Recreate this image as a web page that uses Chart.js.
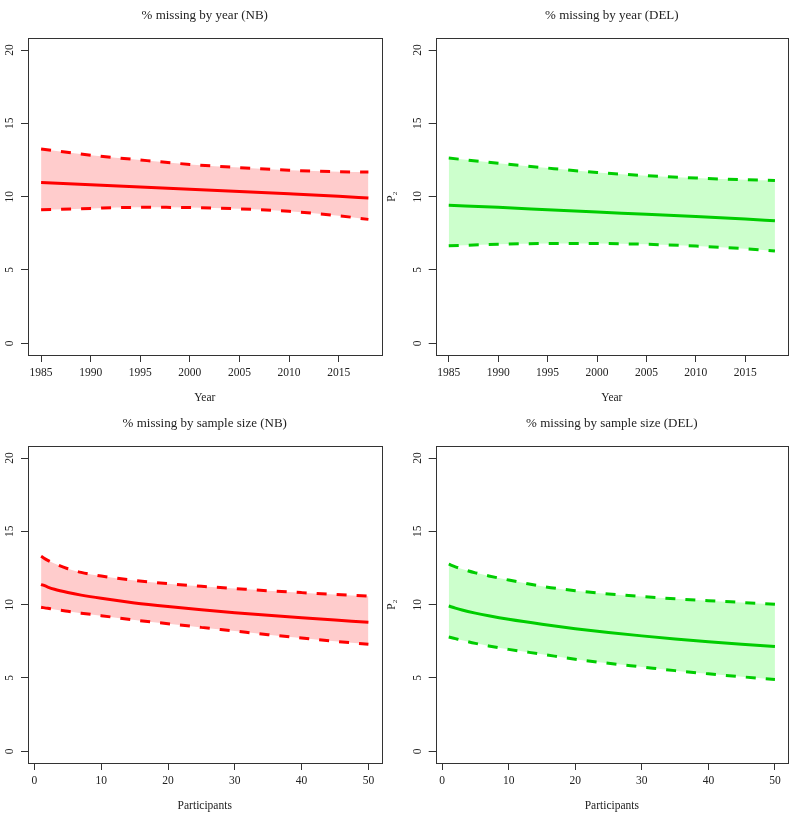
<!DOCTYPE html>
<html>
<head>
<meta charset="utf-8">
<script src="https://cdn.jsdelivr.net/npm/chart.js@4.4.1/dist/chart.umd.min.js"></script>
<style>
  body { margin: 0; background: #fff; }
  #wrap { position: relative; width: 795px; height: 816px; }
  canvas { position: absolute; }
</style>
</head>
<body>
<div id="wrap">
  <canvas id="c1" width="384" height="408" style="left:0;top:0"></canvas>
  <canvas id="c2" width="411" height="408" style="left:384px;top:0"></canvas>
  <canvas id="c3" width="384" height="408" style="left:0;top:408px"></canvas>
  <canvas id="c4" width="411" height="408" style="left:384px;top:408px"></canvas>
</div>
<script>
// --- data ---
const yearX = [1985, 1990, 1995, 2000, 2005, 2010, 2015, 2018];
const nbYearMid   = [10.97, 10.82, 10.66, 10.50, 10.35, 10.20, 10.03, 9.90];
const nbYearUpper = [13.25, 12.83, 12.50, 12.20, 11.98, 11.80, 11.70, 11.68];
const nbYearLower = [9.10, 9.20, 9.27, 9.26, 9.17, 9.00, 8.70, 8.45];
const delYearMid   = [9.42, 9.27, 9.11, 8.95, 8.80, 8.64, 8.47, 8.36];
const delYearUpper = [12.63, 12.28, 11.95, 11.65, 11.43, 11.27, 11.15, 11.10];
const delYearLower = [6.65, 6.75, 6.80, 6.80, 6.75, 6.63, 6.45, 6.30];

const partX = [1, 2, 3, 5, 7, 10, 15, 20, 25, 30, 35, 40, 45, 50];
const nbPartMid   = [11.39, 11.20, 11.05, 10.83, 10.65, 10.43, 10.12, 9.87, 9.65, 9.45, 9.27, 9.10, 8.95, 8.80];
const nbPartUpper = [13.30, 13.02, 12.80, 12.45, 12.20, 11.95, 11.65, 11.43, 11.25, 11.10, 10.95, 10.82, 10.70, 10.58];
const nbPartLower = [9.82, 9.75, 9.67, 9.55, 9.42, 9.25, 8.95, 8.70, 8.45, 8.20, 7.95, 7.72, 7.50, 7.30];
const delPartMid   = [9.91, 9.76, 9.63, 9.42, 9.24, 9.00, 8.66, 8.36, 8.10, 7.87, 7.66, 7.47, 7.30, 7.15];
const delPartUpper = [12.76, 12.58, 12.43, 12.17, 11.96, 11.68, 11.25, 10.95, 10.73, 10.55, 10.40, 10.27, 10.15, 10.03];
const delPartLower = [7.79, 7.68, 7.57, 7.36, 7.18, 6.95, 6.62, 6.28, 6.00, 5.75, 5.50, 5.28, 5.08, 4.90];

const yearTicks = [1985, 1990, 1995, 2000, 2005, 2010, 2015];
const partTicks = [0, 10, 20, 30, 40, 50];
const pctTicks = [0, 5, 10, 15, 20];

const RED = '#ff0000', RED_FILL = '#ffcccc';
const GREEN = '#00cd00', GREEN_FILL = '#ccffcc';
const INK = '#222';

Chart.defaults.font.family = "'Liberation Serif', 'DejaVu Serif', serif";
Chart.defaults.color = INK;

// R style box round the plot region
const boxPlugin = {
  id: 'rbox',
  afterDraw(chart) {
    const a = chart.chartArea, ctx = chart.ctx;
    ctx.save();
    ctx.strokeStyle = '#333';
    ctx.lineWidth = 1;
    ctx.strokeRect(Math.round(a.left) + 0.5, Math.round(a.top) + 0.5,
      Math.round(a.right - a.left), Math.round(a.bottom - a.top));
    ctx.restore();
  }
};

function pts(xs, ys) {
  return xs.map((x, i) => ({ x: x, y: ys[i] }));
}

// R's default 4% axis extension
function extend(lo, hi) {
  const p = (hi - lo) * 0.04;
  return [lo - p, hi + p];
}

function makePanel(id, o) {
  const [xmin, xmax] = extend(o.x[0], o.x[o.x.length - 1]);
  const [ymin, ymax] = extend(0, 20);
  const lineBase = { pointRadius: 0, borderWidth: 3, cubicInterpolationMode: 'monotone', borderCapStyle: 'butt' };

  // chart.js paints the last dataset first, so the fitted line goes at index 0 to stay on top
  new Chart(document.getElementById(id), {
    type: 'line',
    data: {
      datasets: [
        { ...lineBase, data: pts(o.x, o.mid), borderColor: o.color, fill: false },
        { ...lineBase, data: pts(o.x, o.lower), borderColor: o.color, borderDash: [10, 10], fill: false },
        { ...lineBase, data: pts(o.x, o.upper), borderColor: o.color, borderDash: [10, 10], fill: 1, backgroundColor: o.fill }
      ]
    },
    options: {
      responsive: false,
      animation: false,
      layout: { padding: { left: 0, right: o.padRight, top: 0, bottom: 0 } },
      plugins: {
        legend: { display: false },
        tooltip: { enabled: false },
        title: {
          display: true,
          text: o.title,
          fullSize: false,
          font: { size: 13, weight: 'normal' },
          color: INK,
          padding: { top: 7.5, bottom: 15.2 }
        }
      },
      scales: {
        x: {
          type: 'linear',
          min: xmin,
          max: xmax,
          afterBuildTicks: (s) => { s.ticks = o.ticks.map(v => ({ value: v })); },
          afterFit: (s) => { s.height = 53; },
          grid: { drawOnChartArea: false, drawTicks: true, tickLength: 7, tickColor: '#333' },
          border: { display: false },
          ticks: { font: { size: 11.5 }, color: INK, padding: 4, maxRotation: 0, callback: v => String(v) },
          title: { display: true, text: o.xTitle, font: { size: 11.5 }, color: INK, padding: { top: 0, bottom: 3 } }
        },
        y: {
          type: 'linear',
          min: ymin,
          max: ymax,
          afterBuildTicks: (s) => { s.ticks = pctTicks.map(v => ({ value: v })); },
          afterFit: (s) => { s.width = o.yWidth; },
          grid: { drawOnChartArea: false, drawTicks: true, tickLength: 7, tickColor: '#333' },
          border: { display: false },
          ticks: { font: { size: 11.5 }, color: INK, padding: 5, minRotation: 90, maxRotation: 90, crossAlign: 'center', callback: v => String(v) },
          title: { display: !!o.yTitle, text: o.yTitle || '', font: { size: 11.5 }, color: INK, padding: { top: 1.5, bottom: 0 } }
        }
      }
    },
    plugins: [boxPlugin]
  });
}

makePanel('c1', { title: '% missing by year (NB)', x: yearX, mid: nbYearMid, upper: nbYearUpper, lower: nbYearLower,
  color: RED, fill: RED_FILL, ticks: yearTicks, xTitle: 'Year', yWidth: 28, padRight: 2.5 });
makePanel('c2', { title: '% missing by year (DEL)', x: yearX, mid: delYearMid, upper: delYearUpper, lower: delYearLower,
  color: GREEN, fill: GREEN_FILL, ticks: yearTicks, xTitle: 'Year', yTitle: 'P\u2082', yWidth: 51.7, padRight: 7 });
makePanel('c3', { title: '% missing by sample size (NB)', x: partX, mid: nbPartMid, upper: nbPartUpper, lower: nbPartLower,
  color: RED, fill: RED_FILL, ticks: partTicks, xTitle: 'Participants', yWidth: 28, padRight: 2.5 });
makePanel('c4', { title: '% missing by sample size (DEL)', x: partX, mid: delPartMid, upper: delPartUpper, lower: delPartLower,
  color: GREEN, fill: GREEN_FILL, ticks: partTicks, xTitle: 'Participants', yTitle: 'P\u2082', yWidth: 51.7, padRight: 7 });
</script>
</body>
</html>
